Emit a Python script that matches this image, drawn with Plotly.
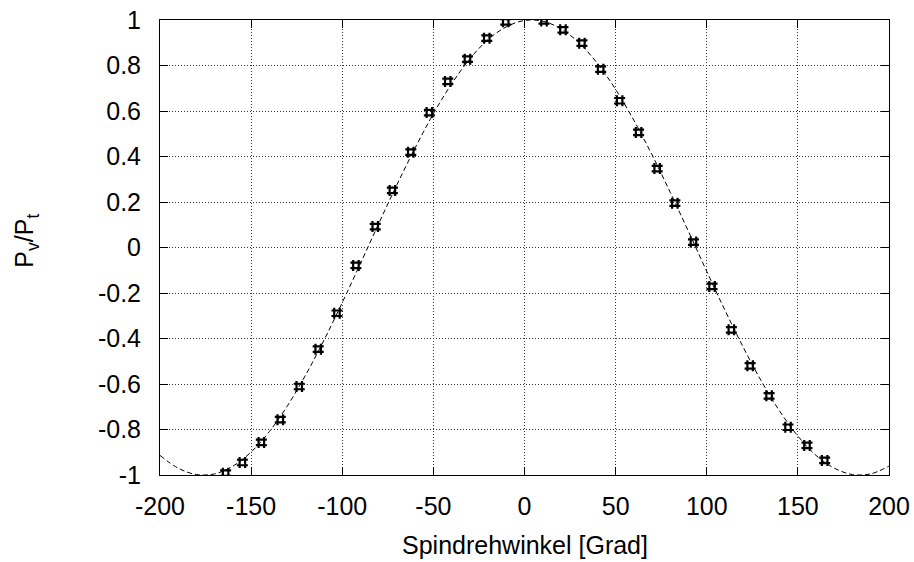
import plotly.graph_objects as go

# measured data points (angle in degrees, Pv/Pt)
angle = [-164.0, -154.8, -144.4, -134.0, -123.6, -113.2, -102.9, -92.5,
         -81.9, -72.5, -62.4, -52.2, -42.1, -31.3, -20.7, -10.3,
         10.7, 21.1, 31.5, 41.8, 52.2, 62.6, 72.8, 82.5, 92.7,
         102.9, 113.5, 123.8, 134.2, 144.6, 155.0, 164.7]
ratio = [-0.992, -0.945, -0.857, -0.757, -0.611, -0.447, -0.289, -0.079,
         0.092, 0.251, 0.419, 0.593, 0.730, 0.828, 0.920, 0.992,
         0.996, 0.957, 0.898, 0.784, 0.645, 0.506, 0.347, 0.195, 0.024,
         -0.171, -0.362, -0.520, -0.652, -0.790, -0.870, -0.936]

# fitted curve
fit_x = list(range(-200, 201, 10))
fit_y = [-0.914, -0.970, -0.998, -0.995, -0.961, -0.899, -0.809, -0.695, -0.559,
         -0.407, -0.242, -0.070, 0.105, 0.276, 0.438, 0.588, 0.719, 0.829, 0.914,
         0.970, 0.998, 0.995, 0.961, 0.899, 0.809, 0.695, 0.559, 0.407, 0.242,
         0.070, -0.105, -0.276, -0.438, -0.588, -0.719, -0.829, -0.914, -0.970,
         -0.998, -0.995, -0.961]

x_ticks = [-200, -150, -100, -50, 0, 50, 100, 150, 200]
x_labels = ["-200", "-150", "-100", "-50", "0", "50", "100", "150", "200"]
y_ticks = [-1, -0.8, -0.6, -0.4, -0.2, 0, 0.2, 0.4, 0.6, 0.8, 1]
y_labels = ["-1", "-0.8", "-0.6", "-0.4", "-0.2", "0", "0.2", "0.4", "0.6", "0.8", "1"]

FONT = "Liberation Sans, Arial, sans-serif"
FS = 25

fig = go.Figure()
fig.add_trace(go.Scatter(
    x=fit_x, y=fit_y, mode="lines", line_shape="spline",
    line=dict(color="black", width=1, dash="5px,3px"),
    hoverinfo="skip", showlegend=False))
fig.add_trace(go.Scatter(
    x=angle, y=ratio, mode="markers",
    marker=dict(symbol="hash-open", size=11, color="black",
                line=dict(color="black", width=2.2)),
    showlegend=False))

axis_common = dict(
    showline=True, linecolor="black", linewidth=1, mirror="allticks",
    ticks="inside", ticklen=8, tickcolor="black", tickwidth=1,
    showgrid=True, gridcolor="#333333", gridwidth=1, griddash="1px,2px",
    zeroline=False, tickfont=dict(family=FONT, size=FS, color="black"),
)

fig.update_xaxes(range=[-200, 200], tickmode="array", tickvals=x_ticks,
                 ticktext=x_labels, ticklabelstandoff=9, **axis_common)
fig.update_yaxes(range=[-1, 1], tickmode="array", tickvals=y_ticks,
                 ticktext=y_labels, ticklabelstandoff=13, **axis_common)

fig.update_layout(
    width=914, height=562,
    margin=dict(l=160, r=25, t=20, b=87, autoexpand=False),
    paper_bgcolor="white", plot_bgcolor="white",
    font=dict(family=FONT, size=FS, color="black"),
    annotations=[
        dict(text="Spindrehwinkel [Grad]", xref="paper", yref="paper",
             x=0.5, y=0, yshift=-70, xanchor="center", yanchor="middle",
             showarrow=False,
             font=dict(family=FONT, size=FS, color="black")),
        dict(text="P<sub>v</sub>/P<sub>t</sub>", xref="paper", yref="paper",
             x=0, y=0.515, xshift=-134, xanchor="center", yanchor="middle",
             showarrow=False, textangle=-90,
             font=dict(family=FONT, size=FS, color="black")),
    ],
)

fig.write_html("out.html")
